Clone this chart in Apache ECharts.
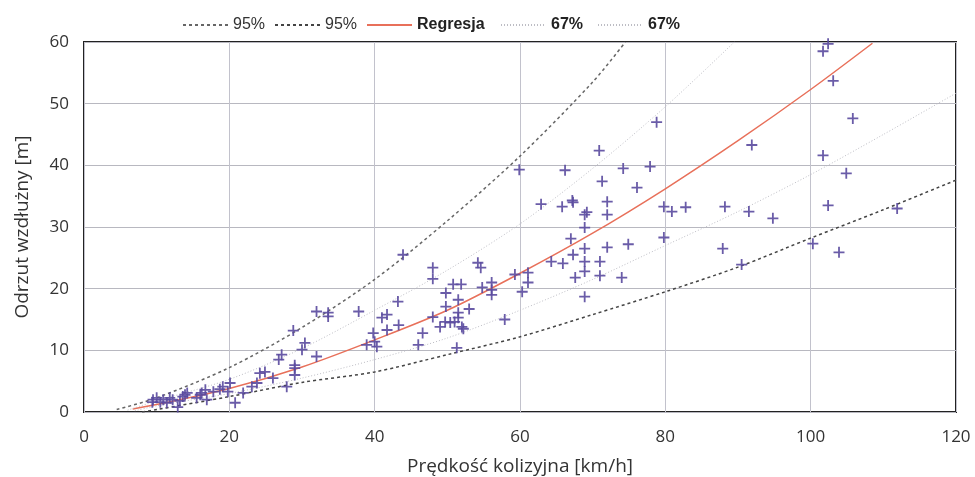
<!DOCTYPE html>
<html>
<head>
<meta charset="utf-8">
<script src="https://cdn.jsdelivr.net/npm/echarts@6/dist/echarts.min.js"></script>
<style>
html, body { margin: 0; background: #fff; }
#chart { width: 975px; height: 477px; }
</style>
</head>
<body>
<div id="chart"></div>
<script>
// pomiary: prędkość kolizyjna [km/h] i odrzut wzdłużny [m]
var speedKmh = [9.4, 9.5, 10, 10.5, 10.9, 11.4, 11.8, 12.2, 12.9, 13.2, 13.6, 13.9, 14.2, 15.5, 16, 16.2, 16.7, 16.9, 17.8, 18.7,
    19.1, 19.8, 20.1, 20.8, 21.9, 23.1, 23.8, 24.2, 24.9, 26, 26.8, 27.2, 27.9, 28.8, 29, 29, 29, 30, 30.4, 32,
    32, 33.6, 33.6, 37.8, 38.9, 39.8, 40, 40.3, 41, 41.7, 41.7, 43.2, 43.3, 43.9, 46, 46.6, 48, 48, 48, 49,
    49.7, 49.8, 49.8, 50.4, 50.8, 51, 51.3, 51.5, 51.5, 51.5, 51.9, 52, 52.2, 53, 54.2, 54.6, 54.8, 56.1, 56.1, 56.1,
    57.9, 59.3, 59.9, 60.3, 61.1, 61.1, 62.9, 64.3, 65.8, 65.9, 66.2, 67, 67.2, 67.3, 67.3, 67.6, 68.9, 69.2, 68.9, 68.9,
    68.9, 68.9, 68.9, 70.9, 71.3, 71, 71, 72, 72, 72, 74, 74.2, 74.9, 76.1, 77.9, 78.8, 79.8, 79.8, 80.9, 82.8,
    87.9, 88.2, 90.5, 91.5, 91.9, 94.8, 100.3, 101.7, 101.7, 102.4, 102.4, 103.1, 103.9, 104.9, 105.8, 111.9];
var throwM = [1.6, 2.0, 2.3, 1.6, 2.0, 1.5, 2.3, 2.0, 0.8, 1.8, 2.5, 2.8, 3.1, 2.3, 2.8, 3.1, 3.6, 2.0, 3.3, 3.7,
    4.1, 3.3, 4.7, 1.5, 3.1, 4.1, 4.7, 6.3, 6.5, 5.5, 8.5, 9.3, 4.1, 13.2, 7.6, 7.1, 6, 10.1, 11.2, 9,
    16.3, 16.1, 15.5, 16.3, 10.9, 12.8, 11.4, 10.6, 15.3, 15.8, 13.3, 17.9, 14.1, 25.5, 10.9, 12.8, 23.4, 21.6, 15.4, 13.8,
    14.6, 19.3, 17.1, 14.5, 20.7, 14.6, 10.4, 18.2, 16.1, 15.3, 20.7, 13.8, 13.5, 16.7, 24.2, 23.4, 20.2, 21, 19.8, 19,
    15, 22.3, 39.3, 19.5, 22.6, 21, 33.7, 24.4, 33.3, 24.1, 39.2, 28.1, 34.3, 34, 25.5, 21.8, 32, 32.4, 29.9, 26.5,
    24.4, 22.8, 18.7, 42.4, 37.4, 24.4, 22.1, 34.1, 32, 26.7, 21.8, 39.5, 27.2, 36.4, 39.8, 47, 33.3, 28.3, 32.5, 33.2,
    26.5, 33.3, 23.9, 32.5, 43.3, 31.4, 27.3, 58.5, 41.6, 59.7, 33.5, 53.7, 25.9, 38.7, 47.6, 33];

// krzywe
var regX = [6.7, 10, 20, 30, 40, 50, 60, 70, 80, 90, 100, 108.5];
var regY = [0.5, 1.2, 3.8, 7.3, 11.7, 16.5, 22.5, 29, 36.2, 44, 52.3, 59.8];
var up95X = [4.5, 10, 20, 30, 40, 50, 60, 70, 74.5];
var up95Y = [0.4, 2.3, 7.2, 13.7, 21.5, 31, 41.5, 53.5, 60];
var low95X = [8, 10, 20, 30, 40, 50, 60, 70, 80, 90, 100, 110, 120];
var low95Y = [0, 0.4, 2.5, 4.8, 6.5, 9.3, 12.2, 15.8, 19.5, 23.5, 28.2, 32.8, 37.6];
var up67X = [6, 10, 20, 30, 40, 50, 60, 70, 80, 89.5];
var up67Y = [0.3, 1.8, 5.3, 10.3, 16.5, 23, 30.5, 39.5, 49.5, 60];
var low67X = [7, 10, 20, 30, 40, 50, 60, 70, 80, 90, 100, 110, 120];
var low67Y = [0.2, 1, 3, 5.5, 8.5, 12, 16.5, 21.5, 27, 32.5, 38.5, 45, 51.7];

// nazwy serii -> tekst legendy
var legendNames = ['95g', '95d', 'Regresja', '67g', '67d'];
var legendLabels = { '95g': '{n|95%}', '95d': '{n|95%}', 'Regresja': '{b|Regresja}', '67g': '{b|67%}', '67d': '{b|67%}' };
var legendLeft = [177, 269, 361, 495, 592];

function pairs(xs, ys) {
    return xs.map(function(x, i) { return [x, ys[i]]; });
}

function lineSeries(name, xs, ys, color, width, dash) {
    return {
        name: name,
        type: 'line',
        data: pairs(xs, ys),
        smooth: 0.3,
        symbol: 'none',
        silent: true,
        itemStyle: { color: color },
        lineStyle: { color: color, width: width, type: dash },
        z: 2
    };
}

var chart = echarts.init(document.getElementById('chart'));

var legends = legendNames.map(function(n, i) {
    return {
        data: [n],
        left: legendLeft[i],
        top: 12,
        itemWidth: 45,
        itemHeight: 14,
        selectedMode: false,
        itemStyle: { opacity: 0 },
        formatter: function(name) { return legendLabels[name]; },
        textStyle: {
            rich: {
                n: { fontFamily: 'Liberation Sans', fontSize: 16, color: '#333' },
                b: { fontFamily: 'Liberation Sans', fontSize: 16, fontWeight: 'bold', color: '#222' }
            }
        }
    };
});

var option = {
    backgroundColor: '#fff',
    animation: false,
    legend: legends,
    grid: {
        left: 84,
        right: 19,
        top: 42,
        bottom: 65,
        outerBoundsMode: 'none',
        show: true,
        borderColor: '#222',
        borderWidth: 2
    },
    xAxis: {
        type: 'value',
        min: 0,
        max: 120,
        interval: 20,
        name: 'Prędkość kolizyjna [km/h]',
        nameLocation: 'middle',
        nameGap: 45,
        nameTextStyle: { fontFamily: 'Open Sans', fontSize: 19, color: '#333' },
        axisLine: { show: false },
        axisTick: { show: false },
        axisLabel: { fontFamily: 'Open Sans', fontSize: 17, color: '#333', margin: 17 },
        splitLine: { lineStyle: { color: '#c2c2cc', width: 1 } }
    },
    yAxis: {
        type: 'value',
        min: 0,
        max: 60,
        interval: 10,
        name: 'Odrzut wzdłużny [m]',
        nameLocation: 'middle',
        nameGap: 52,
        nameTextStyle: { fontFamily: 'Open Sans', fontSize: 19, color: '#333' },
        axisLine: { show: false },
        axisTick: { show: false },
        axisLabel: { fontFamily: 'Open Sans', fontSize: 17, color: '#333', margin: 15 },
        splitLine: { lineStyle: { color: '#b8b8c0', width: 1 } }
    },
    series: [
        lineSeries('95g', up95X, up95Y, '#666', 1.5, [3, 3]),
        lineSeries('95d', low95X, low95Y, '#444', 1.5, [3, 3]),
        lineSeries('Regresja', regX, regY, '#e8705a', 1.5, 'solid'),
        lineSeries('67g', up67X, up67Y, '#bdbdc4', 1, [1, 2]),
        lineSeries('67d', low67X, low67Y, '#bdbdc4', 1, [1, 2]),
        {
            name: 'pomiary',
            type: 'scatter',
            data: pairs(speedKmh, throwM),
            symbol: 'path://M4.6,0H6.4V4.6H11V6.4H6.4V11H4.6V6.4H0V4.6H4.6Z',
            symbolSize: 11,
            itemStyle: { color: '#5a4a9e', opacity: 0.9 },
            z: 3
        }
    ]
};

chart.setOption(option);
</script>
</body>
</html>
